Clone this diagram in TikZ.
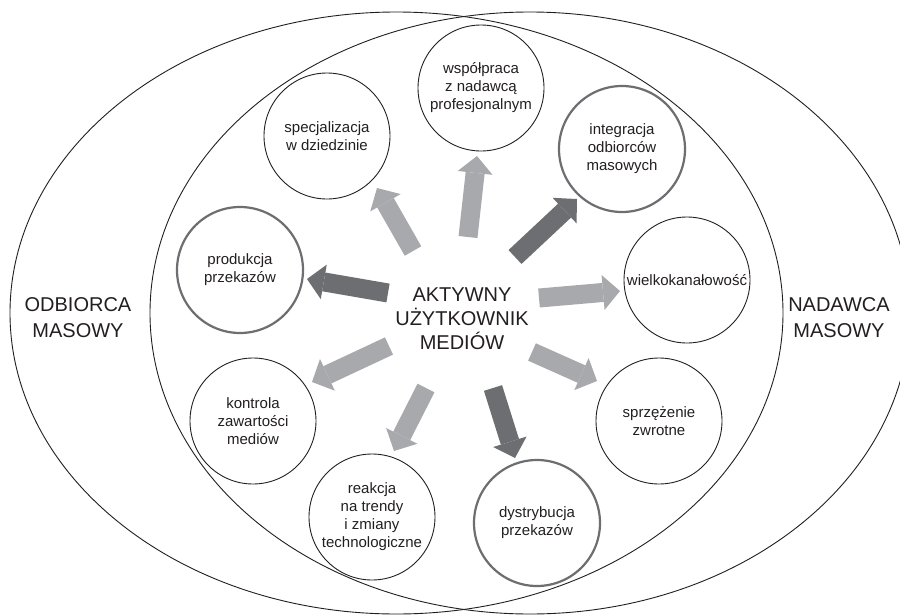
\documentclass[tikz,border=0pt]{standalone}
\usepackage{fontspec}
\setmainfont{Liberation Sans}
\usetikzlibrary{arrows.meta}
\definecolor{lgray}{HTML}{A7A9AC}
\definecolor{dgray}{HTML}{6D6E71}
\definecolor{txt}{HTML}{231F20}
\begin{document}
\begin{tikzpicture}[x=1pt,y=-1pt,
  ell/.style={draw=txt, line width=0.9pt},
  bub/.style={circle, draw=txt, fill=white, line width=0.9pt, minimum size=126pt, inner sep=0pt,
    align=center, font=\fontsize{15}{18}\selectfont, text=txt},
  bubthick/.style={bub, draw=dgray, line width=2.2pt},
  side/.style={align=center, font=\fontsize{20}{26}\selectfont, text=txt},
  lightarr/.style={draw=lgray, line width=19pt, -{Triangle[length=17pt,width=35pt,line width=0pt]}},
  darkarr/.style={draw=dgray, line width=19pt, -{Triangle[length=17pt,width=35pt,line width=0pt]}}
]
\useasboundingbox (0,0) rectangle (900,616);
\fill[white] (0,0) rectangle (900,616);

% two large ellipses
\draw[ell] (396.5,313) ellipse [x radius=386.5pt, y radius=301pt];
\draw[ell] (530,313) ellipse [x radius=380pt, y radius=301pt];

% side labels
\node[side] (odb) at (78,318) {ODBIORCA\\MASOWY};
\node[side] (nad) at (839,318) {NADAWCA\\MASOWY};

% centre
\node[align=center, font=\fontsize{20}{24}\selectfont, text=txt] (user) at (462,319) {AKTYWNY\\UŻYTKOWNIK\\MEDIÓW};

% circles
\node[bub] (spec) at (327,136) {specjalizacja\\w dziedzinie};
\node[bubthick] (prod) at (240,270) {produkcja\\przekazów};
\node[bub] (wsp) at (481,88) {współpraca\\z nadawcą\\profesjonalnym};
\node[bubthick] (integ) at (622,149) {integracja\\odbiorców\\masowych};
\node[bub] (wiel) at (687,280) {wielkokanałowość};
\node[bub] (sprz) at (659,421) {sprzężenie\\zwrotne};
\node[bubthick] (dys) at (537,523) {dystrybucja\\przekazów};
\node[bub] (reak) at (372,517) {reakcja\\na trendy\\i zmiany\\technologiczne};
\node[bub] (kon) at (253,421) {kontrola\\zawartości\\mediów};

% arrow ends
\coordinate (s1) at (413,251); \coordinate (e1) at (377,188);
\coordinate (s2) at (388,293); \coordinate (e2) at (307,279);
\coordinate (s3) at (468,237); \coordinate (e3) at (477,156);
\coordinate (s4) at (515,257); \coordinate (e4) at (577,199);
\coordinate (s5) at (539,298); \coordinate (e5) at (620,291);
\coordinate (s6) at (532,352); \coordinate (e6) at (597,381);
\coordinate (s7) at (493,388); \coordinate (e7) at (515,458);
\coordinate (s8) at (426,388); \coordinate (e8) at (394,451);
\coordinate (s9) at (389,346); \coordinate (e9) at (312,382);

\draw[lightarr] (s1) -- (e1);
\draw[darkarr]  (s2) -- (e2);
\draw[lightarr] (s3) -- (e3);
\draw[darkarr]  (s4) -- (e4);
\draw[lightarr] (s5) -- (e5);
\draw[lightarr] (s6) -- (e6);
\draw[darkarr]  (s7) -- (e7);
\draw[lightarr] (s8) -- (e8);
\draw[lightarr] (s9) -- (e9);
\end{tikzpicture}
\end{document}
